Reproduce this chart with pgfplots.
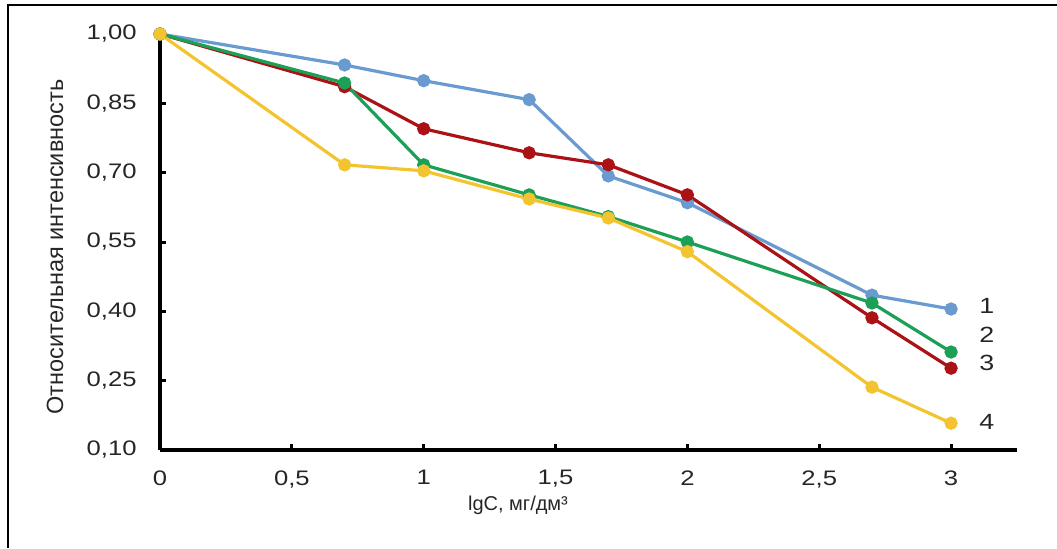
\documentclass[border=0pt]{standalone}
\usepackage{fontspec}
\setmainfont{Liberation Sans}
\newfontfamily\stretchfont[FakeStretch=1.22]{Liberation Sans}
\usepackage{pgfplots}
\pgfplotsset{compat=1.18}
\definecolor{cblue}{RGB}{106,155,208}
\definecolor{cgreen}{RGB}{28,160,88}
\definecolor{cred}{RGB}{170,18,22}
\definecolor{cyellow}{RGB}{244,196,48}
\begin{document}
\begin{tikzpicture}
\useasboundingbox (0,0) rectangle (528.5pt,274pt);
\draw[line width=1.3pt,black] (4pt,0pt) -- (4pt,271.5pt) -- (528.5pt,271.5pt);
\begin{axis}[
  at={(80pt,49pt)}, anchor=south west,
  scale only axis, width=428.5pt, height=208pt,
  xmin=0, xmax=3.25, ymin=0.1, ymax=1.0,
  axis x line=bottom, axis y line=left,
  axis line style={-, line width=1.8pt, black},
  tick align=inside, major tick length=3pt,
  tick style={black, line width=1.5pt},
  xtick={0,0.5,1,1.5,2,2.5,3},
  xticklabels={0,{0,5},1,{1,5},2,{2,5},3},
  ytick={0.10,0.25,0.40,0.55,0.70,0.85,1.00},
  yticklabels={{0,10},{0,25},{0,40},{0,55},{0,70},{0,85},{1,00}},
  xticklabel style={font=\stretchfont\fontsize{10.5}{12}\selectfont, inner sep=0pt, yshift=-10pt, text=black!85},
  yticklabel style={font=\stretchfont\fontsize{10.5}{12}\selectfont, inner sep=0pt, xshift=-11.5pt, text=black!85},
  clip=false,
  every axis plot/.append style={line width=1.6pt, mark=*, mark size=2.5pt},
]
\addplot[color=cblue, mark options={fill=cblue}] coordinates {
 (0,1.00) (0.7,0.933) (1,0.899) (1.4,0.858) (1.7,0.693) (2,0.635) (2.7,0.435) (3,0.405)};
\addplot[color=cred, mark options={fill=cred}] coordinates {
 (0,1.00) (0.7,0.886) (1,0.795) (1.4,0.743) (1.7,0.717) (2,0.652) (2.7,0.386) (3,0.277)};
\addplot[color=cgreen, mark options={fill=cgreen}] coordinates {
 (0,1.00) (0.7,0.894) (1,0.717) (1.4,0.652) (1.7,0.605) (2,0.550) (2.7,0.418) (3,0.312)};
\addplot[color=cyellow, mark options={fill=cyellow}] coordinates {
 (0,1.00) (0.7,0.717) (1,0.704) (1.4,0.643) (1.7,0.602) (2,0.529) (2.7,0.236) (3,0.158)};
\begin{scope}[every node/.style={font=\stretchfont\fontsize{11}{12}\selectfont, text=black!85, inner sep=0pt}]
\node at (axis cs:3.136,0.412) {1};
\node at (axis cs:3.136,0.349) {2};
\node at (axis cs:3.136,0.288) {3};
\node at (axis cs:3.136,0.160) {4};
\end{scope}
\end{axis}
\node[rotate=90, font=\fontsize{11.75}{13}\selectfont, text=black!85, inner sep=0pt] at (27.5pt,150.5pt) {Относительная интенсивность};
\node[anchor=base, font=\fontsize{10}{12}\selectfont, text=black!85, inner sep=0pt] at (259pt,19pt) {lgC, мг/дм³};
\end{tikzpicture}
\end{document}
